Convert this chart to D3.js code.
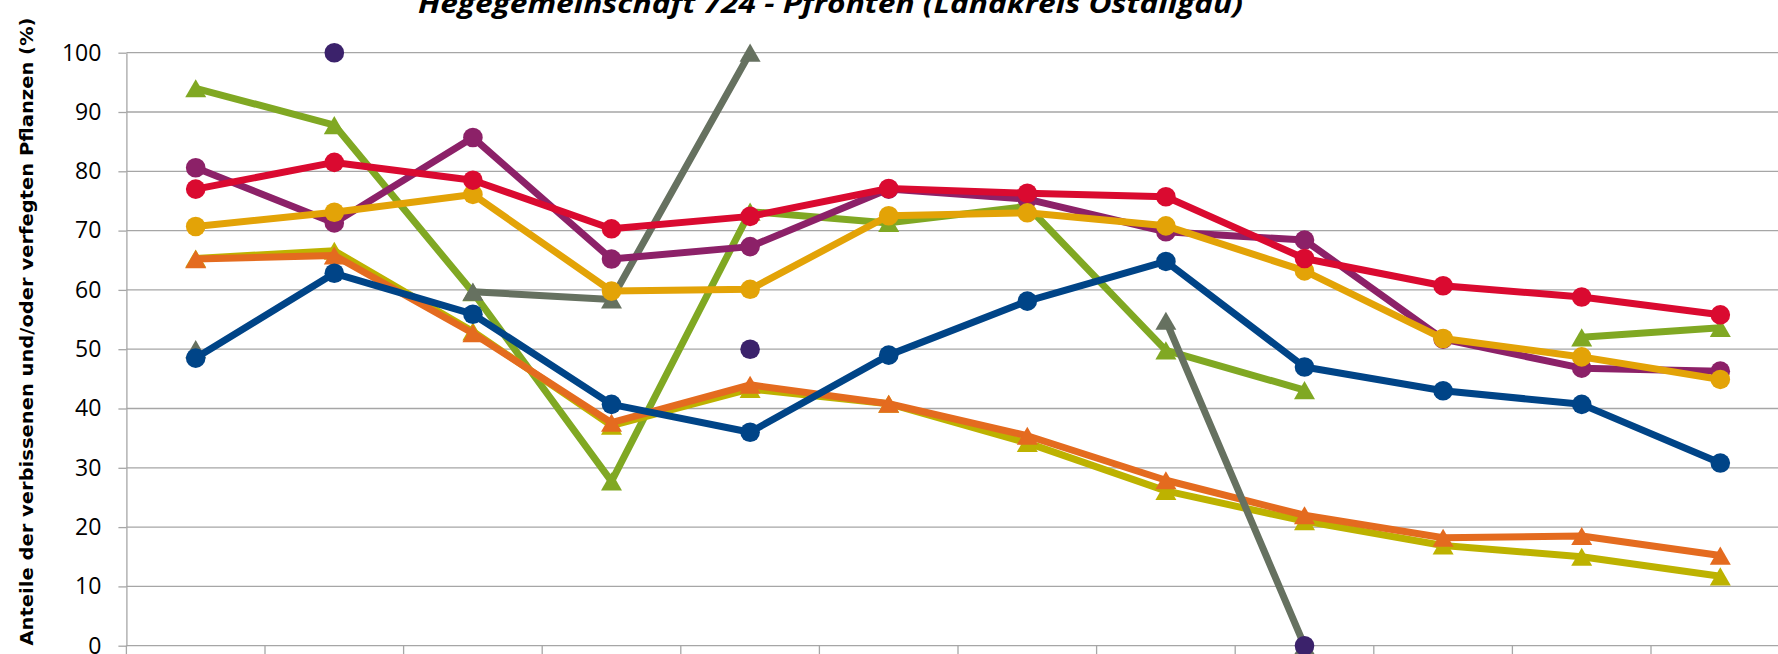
<!DOCTYPE html>
<html>
<head>
<meta charset="utf-8">
<script src="https://cdn.jsdelivr.net/npm/d3@7"></script>
<style>
  html, body { margin: 0; padding: 0; background: #ffffff; }
  svg { display: block; }
</style>
</head>
<body>
<svg id="chart" width="1778" height="654"></svg>
<script>
// ---- data ----
const categories = ["1991", "1994", "1997", "2000", "2003", "2006", "2009", "2012", "2015", "2018", "2021", "2024"];
const yTicks = [0, 10, 20, 30, 40, 50, 60, 70, 80, 90, 100];

const titleText = "Hegegemeinschaft 724 - Pfronten (Landkreis Ostallgäu)";
const yLabelText = "Anteile der verbissenen und/oder verfegten Pflanzen (%)";

const seriesGreen      = [94.0, 87.8, 59.6, 27.7, 73.2, 71.3, 74.1, 49.8, 43.1, null, 52.0, 53.6];
const seriesOlive      = [65.3, 66.6, 53.0, 37.1, 43.3, 40.8, 34.2, 26.1, 21.0, 16.9, 15.0, 11.7];
const seriesOrange     = [65.2, 65.8, 52.7, 37.6, 44.0, 40.8, 35.4, 27.9, 22.0, 18.2, 18.5, 15.2];
const seriesGrey       = [50.0, null, 59.7, 58.4, 100.0, null, null, 54.8, 0.0, null, null, null];
const seriesBlue       = [48.5, 62.8, 55.9, 40.7, 36.0, 49.0, 58.1, 64.8, 47.0, 43.0, 40.7, 30.8];
const seriesDarkPurple = [null, 100.0, null, null, 50.0, null, null, null, 0.0, null, null, null];
const seriesPurple     = [80.6, 71.3, 85.7, 65.2, 67.3, 77.0, 75.3, 69.8, 68.4, 51.7, 46.8, 46.3];
const seriesYellow     = [70.7, 73.1, 76.1, 59.8, 60.1, 72.5, 73.0, 70.8, 63.2, 51.8, 48.7, 44.9];
const seriesRed        = [77.0, 81.5, 78.5, 70.3, 72.4, 77.1, 76.3, 75.7, 65.3, 60.7, 58.8, 55.8];

// drawing order (later = on top)
const series = [
  { values: seriesGreen,      color: "#80a823", marker: "triangle" },
  { values: seriesOlive,      color: "#bdb200", marker: "triangle" },
  { values: seriesOrange,     color: "#e46b1f", marker: "triangle" },
  { values: seriesGrey,       color: "#667160", marker: "triangle" },
  { values: seriesBlue,       color: "#004487", marker: "circle" },
  { values: seriesDarkPurple, color: "#3b226b", marker: "circle" },
  { values: seriesPurple,     color: "#8c2168", marker: "circle" },
  { values: seriesYellow,     color: "#e3a307", marker: "circle" },
  { values: seriesRed,        color: "#da0a30", marker: "circle" }
];

// ---- layout ----
const W = 1778, H = 654;
const plotLeft = 126.4, plotRight = 1789.6, plotTop = 52.7, plotBottom = 645.7;
const gridColor = "#a6a6a6";

const svg = d3.select("#chart");
svg.append("rect").attr("width", W).attr("height", H).attr("fill", "#fff");

const x = d3.scaleBand().domain(categories).range([plotLeft, plotRight]).padding(0);
const y = d3.scaleLinear().domain([0, 100]).range([plotBottom, plotTop]);
const cx = c => x(c) + x.bandwidth() / 2;

// gridlines
svg.append("g").selectAll("line").data(yTicks).join("line")
  .attr("x1", plotLeft).attr("x2", plotRight)
  .attr("y1", d => y(d)).attr("y2", d => y(d))
  .attr("stroke", gridColor).attr("stroke-width", 1.3);

// y axis
const yAxis = d3.axisLeft(y).tickValues(yTicks).tickSize(8).tickSizeOuter(0).tickPadding(17);
const gy = svg.append("g").attr("transform", `translate(${plotLeft},0)`).call(yAxis);
gy.select(".domain").attr("stroke", gridColor).attr("stroke-width", 1.3);
gy.selectAll(".tick line").attr("stroke", gridColor).attr("stroke-width", 1.3);
gy.selectAll(".tick text")
  .attr("font-family", "'Open Sans', sans-serif")
  .attr("font-size", 23)
  .attr("fill", "#000");

// x axis: ticks at category boundaries
const boundaries = categories.map(c => x(c)).concat([x(categories[categories.length - 1]) + x.step()]);
svg.append("g").selectAll("line").data(boundaries).join("line")
  .attr("x1", d => d).attr("x2", d => d)
  .attr("y1", plotBottom).attr("y2", plotBottom + 9)
  .attr("stroke", gridColor).attr("stroke-width", 1.3);

// lines
const line = d3.line()
  .defined(d => d.v !== null)
  .x(d => cx(d.c))
  .y(d => y(d.v));

// custom triangle centred on its bounding box
const triangleBox = {
  draw(context, size) {
    const s = Math.sqrt(size * 4 / Math.sqrt(3));
    const h = s * Math.sqrt(3) / 2;
    context.moveTo(0, -h / 2);
    context.lineTo(s / 2, h / 2);
    context.lineTo(-s / 2, h / 2);
    context.closePath();
  }
};

series.forEach(s => {
  const pts = categories.map((c, i) => ({ c, v: s.values[i] }));
  const g = svg.append("g");
  g.append("path")
    .attr("d", line(pts))
    .attr("fill", "none")
    .attr("stroke", s.color)
    .attr("stroke-width", 7)
    .attr("stroke-linejoin", "round")
    .attr("stroke-linecap", "round");
  const sym = s.marker === "circle"
    ? d3.symbol().type(d3.symbolCircle).size(Math.PI * 9.8 * 9.8)
    : d3.symbol().type(triangleBox).size(Math.sqrt(3) / 4 * 21 * 21);
  g.selectAll("path.m").data(pts.filter(d => d.v !== null)).join("path")
    .attr("class", "m")
    .attr("transform", d => `translate(${cx(d.c)},${y(d.v)})`)
    .attr("d", sym())
    .attr("fill", s.color);
});

// title (cropped at top)
svg.append("text")
  .attr("x", 418).attr("y", 12.7)
  .attr("font-family", "'Open Sans', sans-serif")
  .attr("font-weight", "bold").attr("font-style", "italic")
  .attr("font-size", 27)
  .attr("textLength", 825).attr("lengthAdjust", "spacingAndGlyphs")
  .attr("fill", "#000")
  .text(titleText);

// y axis label
svg.append("text")
  .attr("transform", `translate(33,${(17 + 646) / 2}) rotate(-90)`)
  .attr("text-anchor", "middle")
  .attr("font-family", "'DejaVu Sans', sans-serif")
  .attr("font-weight", "bold")
  .attr("font-size", 17)
  .attr("textLength", 628).attr("lengthAdjust", "spacingAndGlyphs")
  .attr("fill", "#000")
  .text(yLabelText);
</script>
</body>
</html>
